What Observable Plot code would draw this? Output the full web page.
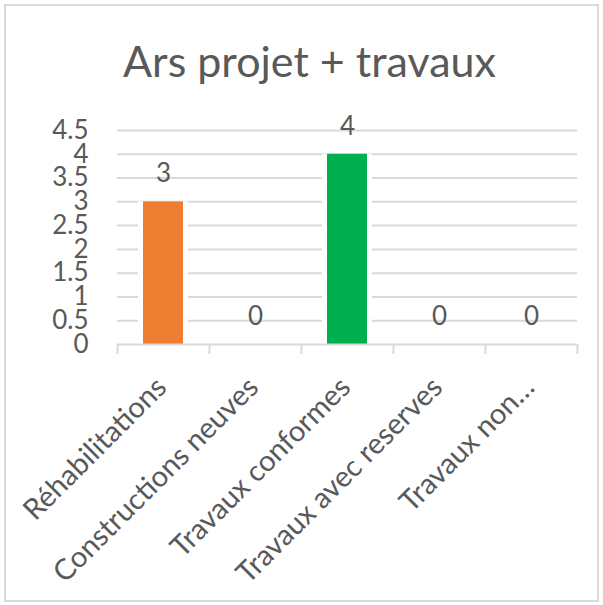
<!DOCTYPE html>
<html>
<head>
<meta charset="utf-8">
<script src="https://cdn.jsdelivr.net/npm/d3@7"></script>
<script src="https://cdn.jsdelivr.net/npm/@observablehq/plot@0.6"></script>
<style>
  html, body { margin: 0; padding: 0; background: #fff; }
  body { width: 603px; height: 605px; position: relative; overflow: hidden; font-family: Lato, "Noto Sans", sans-serif; }
  #frame { position: absolute; left: 4px; top: 4px; width: 595px; height: 598px; border: 2px solid #d9d9d9; box-sizing: border-box; }
  #title { position: absolute; left: 8px; width: 603px; top: 35px; text-align: center; font-size: 43px; color: #595959; line-height: 52px; }
  #chart { position: absolute; left: 0; top: 0; }
</style>
</head>
<body>
<div id="frame"></div>
<div id="title">Ars projet + travaux</div>
<div id="chart"></div>
<script>
const categories = ["Réhabilitations", "Constructions neuves", "Travaux conformes", "Travaux avec reserves", "Travaux non…"];
const values = [3, 0, 4, 0, 0];
const barColors = ["#ED7D31", "#A5A5A5", "#00B050", "#FFC000", "#5B9BD5"];
const yTicks = [0, 0.5, 1, 1.5, 2, 2.5, 3, 3.5, 4, 4.5];
const yTickLabels = ["0", "0.5", "1", "1.5", "2", "2.5", "3", "3.5", "4", "4.5"];

const data = categories.map((c, i) => ({category: c, value: values[i], color: barColors[i]}));
const gridColor = "#d9d9d9";
const textColor = "#595959";

const chart = Plot.plot({
  width: 603,
  height: 605,
  marginTop: 130,
  marginBottom: 261,
  marginLeft: 117,
  marginRight: 26,
  style: {fontFamily: "Lato, 'Noto Sans', sans-serif", background: "transparent", color: textColor},
  x: {domain: categories, padding: 0, axis: null},
  y: {domain: [0, 4.5], axis: null},
  marks: [
    Plot.ruleY(yTicks.filter(d => d > 0), {stroke: gridColor, strokeWidth: 2}),
    Plot.barY(data, {x: "category", y: "value", fill: "white", insetLeft: 21, insetRight: 21}),
    Plot.barY(data, {x: "category", y: "value", fill: "color", insetLeft: 26, insetRight: 26}),
    Plot.ruleY([0], {stroke: gridColor, strokeWidth: 2}),
    Plot.ruleX(categories, {x: d => d, y1: 0, y2: 0, insetBottom: -10, dx: -46, stroke: gridColor, strokeWidth: 2}),
    Plot.ruleX(categories.slice(-1), {x: d => d, y1: 0, y2: 0, insetBottom: -10, dx: 46, stroke: gridColor, strokeWidth: 2}),
    Plot.text(yTicks, {x: null, y: d => d, text: (d, i) => yTickLabels[i], frameAnchor: "left", dx: -29, textAnchor: "end", fontSize: 26, fill: textColor}),
    Plot.text(data, {x: "category", y: "value", text: d => String(d.value), dy: -28, fontSize: 26, fill: textColor}),
    Plot.text(categories, {x: d => d, y: 0, text: d => d, rotate: -45, textAnchor: "end", dy: 38, dx: -2, fontSize: 29, fill: textColor})
  ]
});
document.getElementById("chart").appendChild(chart);
</script>
</body>
</html>
